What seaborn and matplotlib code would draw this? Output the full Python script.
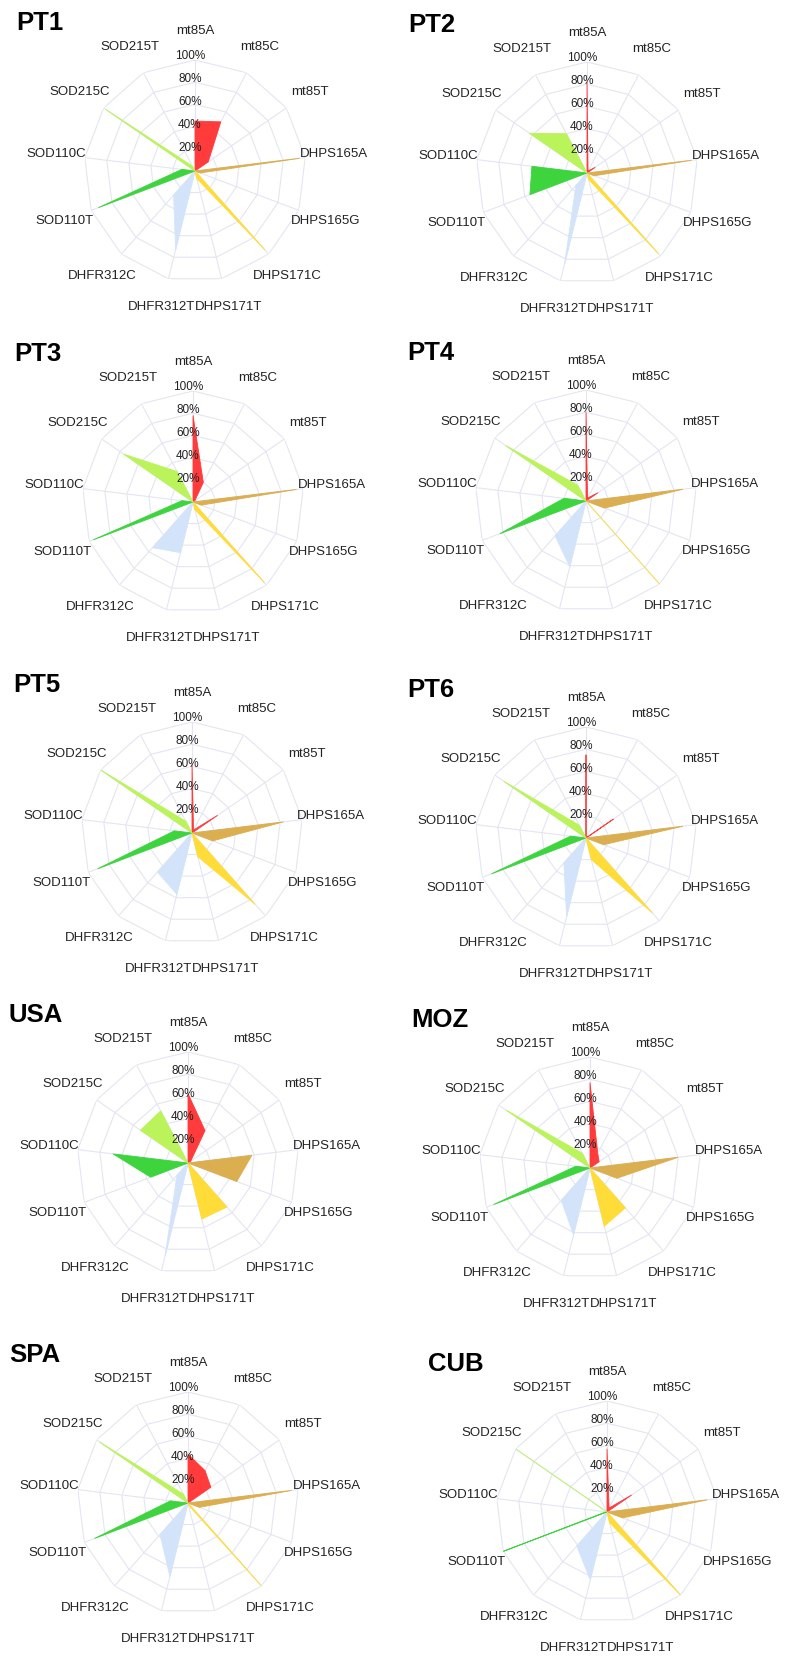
import numpy as np
import matplotlib
matplotlib.use("Agg")
import matplotlib.pyplot as plt
import seaborn as sns


####################################################################################
## DATA  (allele frequencies, 0-1)
####################################################################################

categories = ["mt85A", "mt85C", "mt85T", "DHPS165A", "DHPS165G", "DHPS171C",
              "DHPS171T", "DHFR312T", "DHFR312C", "SOD110T", "SOD110C",
              "SOD215C", "SOD215T"]

# which categories belong to one locus (one filled shape each)
gene_groups = [[0, 1, 2], [3, 4], [5, 6], [7, 8], [9, 10], [11, 12]]

pct_levels = [0.2, 0.4, 0.6, 0.8, 1.0]
pct_labels = ["20%", "40%", "60%", "80%", "100%"]

panel_names = ["PT1", "PT2", "PT3", "PT4", "PT5", "PT6", "USA", "MOZ", "SPA", "CUB"]

pt1 = [0.45, 0.50, 0.145, 0.95, 0.05, 0.95, 0.07, 0.73, 0.29, 0.93, 0.12, 0.98, 0.05]
pt2 = [0.82, 0.02, 0.09, 0.95, 0.07, 0.97, 0.06, 0.84, 0.15, 0.55, 0.50, 0.63, 0.40]
pt3 = [0.78, 0.20, 0.02, 0.94, 0.08, 0.97, 0.07, 0.47, 0.55, 0.96, 0.10, 0.76, 0.31]
pt4 = [0.80, 0.03, 0.13, 0.88, 0.18, 1.00, 0.00, 0.61, 0.42, 0.83, 0.20, 0.88, 0.16]
pt5 = [0.62, 0.03, 0.28, 0.83, 0.20, 0.86, 0.22, 0.57, 0.47, 0.91, 0.16, 1.00, 0.12]
pt6 = [0.75, 0.00, 0.30, 0.88, 0.17, 0.90, 0.20, 0.73, 0.30, 0.91, 0.14, 0.90, 0.13]
usa = [0.625, 0.33, 0.03, 0.58, 0.47, 0.53, 0.52, 0.86, 0.15, 0.36, 0.68, 0.52, 0.53]
moz = [0.77, 0.15, 0.10, 0.80, 0.26, 0.48, 0.54, 0.62, 0.39, 0.93, 0.13, 0.92, 0.15]
spa = [0.44, 0.33, 0.25, 0.94, 0.11, 1.00, 0.02, 0.68, 0.38, 0.90, 0.16, 0.97, 0.09]
cub = [0.57, 0.04, 0.27, 0.91, 0.15, 1.00, 0.10, 0.63, 0.41, 1.00, 0.01, 1.00, 0.00]

panel_values = [pt1, pt2, pt3, pt4, pt5, pt6, usa, moz, spa, cub]


####################################################################################
## STYLE / LAYOUT
####################################################################################

gene_colors = sns.color_palette(["#FF3B3B", "#DBAE4F", "#FFDC38",
                                 "#D3E4FA", "#3DD43D", "#BBF35A"])
grid_color = "#E3E6F2"

FIG_W, FIG_H = 792, 1657
R = 111  # radar radius in pixels

# radar centres in pixels
centres = [(195, 171), (587, 173),
           (193, 502), (586, 501),
           (192, 833), (586, 838),
           (188, 1163), (590, 1168),
           (188, 1503), (607, 1512)]

sns.set_theme(style="white")
plt.rcParams["font.family"] = ["Liberation Sans", "DejaVu Sans"]

fig = plt.figure(figsize=(FIG_W / 100, FIG_H / 100), dpi=100)
fig.patch.set_facecolor("white")

angles = np.arange(len(categories)) * 2 * np.pi / len(categories)
ring_theta = np.append(angles, angles[0])

for name, vals, (cx, cy) in zip(panel_names, panel_values, centres):
    ax = fig.add_axes([(cx - R) / FIG_W, 1 - (cy + R) / FIG_H, 2 * R / FIG_W, 2 * R / FIG_H],
                      projection="polar")
    ax.set_theta_zero_location("N")
    ax.set_theta_direction(-1)
    ax.set_facecolor("none")

    # polygon grid
    for lvl in pct_levels:
        sns.lineplot(x=ring_theta, y=np.full(len(ring_theta), lvl), sort=False,
                     estimator=None, color=grid_color, lw=0.8, ax=ax, zorder=1)
    for a in angles:
        ax.plot([a, a], [0, 1], color=grid_color, lw=0.8, zorder=1)

    # one filled shape per locus
    for grp, col in zip(gene_groups, gene_colors):
        th = [0] + [angles[i] for i in grp] + [0]
        rr = [0] + [vals[i] for i in grp] + [0]
        ax.fill(th, rr, color=col, lw=0.6, zorder=3)

    for i, cat in enumerate(categories):
        ax.text(angles[i], 1.26, cat, ha="center", va="center", fontsize=9.5,
                color="#222222", clip_on=False)

    for lvl, lab in zip(pct_levels, pct_labels):
        ax.annotate(lab, xy=(0, lvl * 1.04), xytext=(-5, 0), textcoords="offset pixels",
                    ha="center", va="center", fontsize=8.5, color="#222222", zorder=5,
                    annotation_clip=False)

    ax.set_ylim(0, 1)
    ax.set_xticks([])
    ax.set_yticks([])
    ax.set_xlabel("")
    ax.set_ylabel("")
    ax.grid(False)
    ax.spines["polar"].set_visible(False)

    fig.text((cx - 179) / FIG_W, 1 - (cy - 141) / FIG_H, name, fontsize=18.5,
             fontweight="bold", ha="left", va="baseline", color="black")

fig.savefig("out.png", dpi=100)
